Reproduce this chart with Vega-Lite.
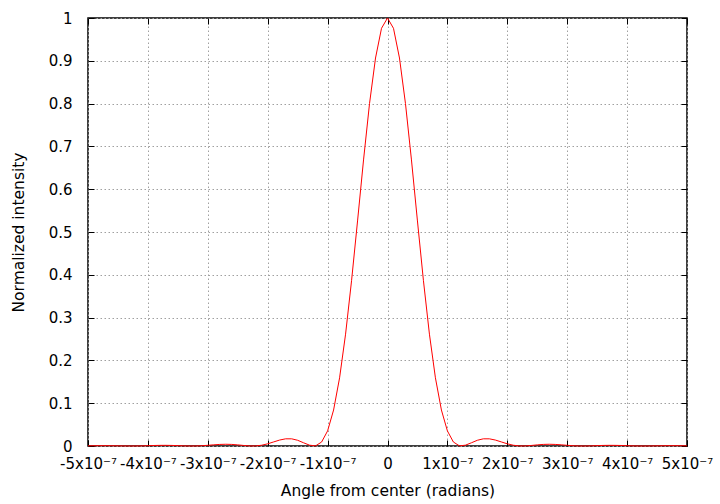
{
  "$schema": "https://vega.github.io/schema/vega-lite/v6.json",
  "width": 599,
  "height": 428,
  "autosize": {"type": "none"},
  "padding": {"left": 88, "top": 18, "right": 33, "bottom": 58},
  "background": "white",
  "config": {
    "view": {"stroke": "black", "strokeWidth": 1.5},
    "font": "DejaVu Sans"
  },
  "data": {
    "values": [
      {"a": -5e-7, "i": 0.00038}, {"a": -4.9e-7, "i": 0.00060}, {"a": -4.8e-7, "i": 0.00074}, {"a": -4.7e-7, "i": 0.00075},
      {"a": -4.6e-7, "i": 0.00062}, {"a": -4.5e-7, "i": 0.00039}, {"a": -4.4e-7, "i": 0.00015}, {"a": -4.3e-7, "i": 0.00001},
      {"a": -4.2e-7, "i": 0.00005}, {"a": -4.1e-7, "i": 0.00031}, {"a": -4e-7, "i": 0.00073}, {"a": -3.9e-7, "i": 0.00117},
      {"a": -3.8e-7, "i": 0.00149}, {"a": -3.7e-7, "i": 0.00156}, {"a": -3.6e-7, "i": 0.00133}, {"a": -3.5e-7, "i": 0.00087},
      {"a": -3.4e-7, "i": 0.00036}, {"a": -3.3e-7, "i": 0.00003}, {"a": -3.2e-7, "i": 0.00009}, {"a": -3.1e-7, "i": 0.00064},
      {"a": -3e-7, "i": 0.00161}, {"a": -2.9e-7, "i": 0.00274}, {"a": -2.8e-7, "i": 0.00368}, {"a": -2.7e-7, "i": 0.00407},
      {"a": -2.6e-7, "i": 0.00369}, {"a": -2.5e-7, "i": 0.00261}, {"a": -2.4e-7, "i": 0.00122}, {"a": -2.3e-7, "i": 0.00017},
      {"a": -2.2e-7, "i": 0.00018}, {"a": -2.1e-7, "i": 0.00180}, {"a": -2e-7, "i": 0.00511}, {"a": -1.9e-7, "i": 0.00954},
      {"a": -1.8e-7, "i": 0.01392}, {"a": -1.7e-7, "i": 0.01677}, {"a": -1.6e-7, "i": 0.01677}, {"a": -1.5e-7, "i": 0.01338},
      {"a": -1.4e-7, "i": 0.00746}, {"a": -1.3e-7, "i": 0.00184}, {"a": -1.2e-7, "i": 0.00036}, {"a": -1.1e-7, "i": 0.00934},
      {"a": -1e-7, "i": 0.03530}, {"a": -9e-8, "i": 0.08406}, {"a": -8e-8, "i": 0.15928}, {"a": -7e-8, "i": 0.26129},
      {"a": -6e-8, "i": 0.38619}, {"a": -5e-8, "i": 0.52581}, {"a": -4e-8, "i": 0.66838}, {"a": -3e-8, "i": 0.79998},
      {"a": -2e-8, "i": 0.90652}, {"a": -1e-8, "i": 0.97591}, {"a": 0, "i": 1},
      {"a": 1e-8, "i": 0.97591}, {"a": 2e-8, "i": 0.90652}, {"a": 3e-8, "i": 0.79998}, {"a": 4e-8, "i": 0.66838},
      {"a": 5e-8, "i": 0.52581}, {"a": 6e-8, "i": 0.38619}, {"a": 7e-8, "i": 0.26129}, {"a": 8e-8, "i": 0.15928},
      {"a": 9e-8, "i": 0.08406}, {"a": 1e-7, "i": 0.03530}, {"a": 1.1e-7, "i": 0.00934}, {"a": 1.2e-7, "i": 0.00036},
      {"a": 1.3e-7, "i": 0.00184}, {"a": 1.4e-7, "i": 0.00746}, {"a": 1.5e-7, "i": 0.01338}, {"a": 1.6e-7, "i": 0.01677},
      {"a": 1.7e-7, "i": 0.01677}, {"a": 1.8e-7, "i": 0.01392}, {"a": 1.9e-7, "i": 0.00954}, {"a": 2e-7, "i": 0.00511},
      {"a": 2.1e-7, "i": 0.00180}, {"a": 2.2e-7, "i": 0.00018}, {"a": 2.3e-7, "i": 0.00017}, {"a": 2.4e-7, "i": 0.00122},
      {"a": 2.5e-7, "i": 0.00261}, {"a": 2.6e-7, "i": 0.00369}, {"a": 2.7e-7, "i": 0.00407}, {"a": 2.8e-7, "i": 0.00368},
      {"a": 2.9e-7, "i": 0.00274}, {"a": 3e-7, "i": 0.00161}, {"a": 3.1e-7, "i": 0.00064}, {"a": 3.2e-7, "i": 0.00009},
      {"a": 3.3e-7, "i": 0.00003}, {"a": 3.4e-7, "i": 0.00036}, {"a": 3.5e-7, "i": 0.00087}, {"a": 3.6e-7, "i": 0.00133},
      {"a": 3.7e-7, "i": 0.00156}, {"a": 3.8e-7, "i": 0.00149}, {"a": 3.9e-7, "i": 0.00117}, {"a": 4e-7, "i": 0.00073},
      {"a": 4.1e-7, "i": 0.00031}, {"a": 4.2e-7, "i": 0.00005}, {"a": 4.3e-7, "i": 0.00001}, {"a": 4.4e-7, "i": 0.00015},
      {"a": 4.5e-7, "i": 0.00039}, {"a": 4.6e-7, "i": 0.00062}, {"a": 4.7e-7, "i": 0.00075}, {"a": 4.8e-7, "i": 0.00074},
      {"a": 4.9e-7, "i": 0.00060}, {"a": 5e-7, "i": 0.00038}
    ]
  },
  "layer": [
    {
      "mark": {"type": "line", "color": "#ff0000", "strokeWidth": 1},
      "encoding": {
        "x": {
          "field": "a", "type": "quantitative",
          "scale": {"domain": [-5e-7, 5e-7], "nice": false, "zero": false},
          "axis": {
            "orient": "bottom",
            "values": [-5e-7, -4e-7, -3e-7, -2e-7, -1e-7, 0, 1e-7, 2e-7, 3e-7, 4e-7, 5e-7],
            "labelExpr": "datum.value == 0 ? '0' : round(datum.value * 1e7) + 'x10⁻⁷'",
            "title": "Angle from center (radians)",
            "grid": true, "gridColor": "#a0a0a0", "gridDash": [1.5, 2.5], "gridWidth": 1,
            "domain": false,
            "ticks": true, "tickSize": -6, "tickColor": "black", "tickWidth": 1,
            "labelPadding": 16, "labelFontSize": 15, "labelColor": "black",
            "labelFlush": false, "labelOverlap": false,
            "titleFontSize": 15.5, "titleFontWeight": "normal", "titleColor": "black", "titlePadding": 12
          }
        },
        "y": {
          "field": "i", "type": "quantitative",
          "scale": {"domain": [0, 1], "nice": false},
          "axis": {
            "orient": "left",
            "values": [0, 0.1, 0.2, 0.3, 0.4, 0.5, 0.6, 0.7, 0.8, 0.9, 1],
            "format": "~g",
            "title": "Normalized intensity",
            "grid": true, "gridColor": "#a0a0a0", "gridDash": [1.5, 2.5], "gridWidth": 1,
            "domain": false,
            "ticks": true, "tickSize": -6, "tickColor": "black", "tickWidth": 1,
            "labelPadding": 22, "labelFontSize": 15, "labelColor": "black",
            "labelFlush": false, "labelOverlap": false,
            "titleFontSize": 15.5, "titleFontWeight": "normal", "titleColor": "black", "titlePadding": 22
          }
        }
      }
    },
    {
      "mark": {"type": "line", "opacity": 0},
      "encoding": {
        "x": {
          "field": "a", "type": "quantitative",
          "axis": {
            "orient": "top",
            "values": [-5e-7, -4e-7, -3e-7, -2e-7, -1e-7, 0, 1e-7, 2e-7, 3e-7, 4e-7, 5e-7],
            "labels": false, "grid": false, "domain": false, "title": null,
            "ticks": true, "tickSize": -6, "tickColor": "black", "tickWidth": 1
          }
        },
        "y": {
          "field": "i", "type": "quantitative",
          "axis": {
            "orient": "right",
            "values": [0, 0.1, 0.2, 0.3, 0.4, 0.5, 0.6, 0.7, 0.8, 0.9, 1],
            "labels": false, "grid": false, "domain": false, "title": null,
            "ticks": true, "tickSize": -6, "tickColor": "black", "tickWidth": 1
          }
        }
      }
    }
  ],
  "resolve": {"axis": {"x": "independent", "y": "independent"}}
}
